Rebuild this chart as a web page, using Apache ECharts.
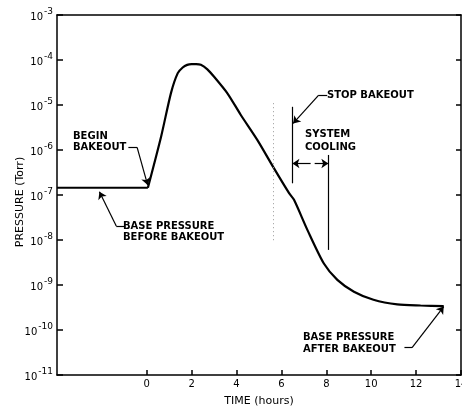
<!DOCTYPE html>
<html>
<head>
<meta charset="utf-8">
<script src="https://cdn.jsdelivr.net/npm/echarts@6/dist/echarts.min.js"></script>
<style>
  html, body { margin: 0; padding: 0; background: #fff; }
  #chart { width: 462px; height: 409px; }
</style>
</head>
<body>
<div id="chart"></div>
<script>
// base pressure before bakeout (hours, Torr)
var baseHours = [-4, 0.05];
var basePressure = [1.45e-7, 1.45e-7];
// pressure during bakeout and cooling
var hours = [0.05, 0.64, 1.08, 1.38, 1.6, 1.8, 2.0, 2.2, 2.41, 2.7, 2.99, 3.6, 4.19, 4.93, 5.67, 6.34, 6.56, 7.16, 7.89, 8.49, 9.23, 10.1, 11.16, 12.2, 13.23];
var pressure = [1.45e-7, 2.0e-6, 1.86e-5, 5.1e-5, 6.8e-5, 7.8e-5, 8.1e-5, 8.1e-5, 7.8e-5, 6.2e-5, 4.3e-5, 1.8e-5, 6.0e-6, 1.66e-6, 3.9e-7, 1.1e-7, 7.8e-8, 1.66e-8, 3.0e-9, 1.3e-9, 7.1e-10, 4.7e-10, 3.7e-10, 3.5e-10, 3.4e-10];
var hourTicks = [0, 2, 4, 6, 8, 10, 12, 14];
var decadeTicks = [1e-11, 1e-10, 1e-9, 1e-8, 1e-7, 1e-6, 1e-5, 1e-4, 1e-3];
var stopBakeout = 6.49;
var coolingEnd = 8.09;

function zip(xs, ys) {
  return xs.map(function (x, i) { return [x, ys[i]]; });
}

// a segment in (hours, log10 pressure)
function seg(x1, l1, x2, l2, arrow, style) {
  return [
    { coord: [x1, Math.pow(10, l1)], symbol: 'none' },
    { coord: [x2, Math.pow(10, l2)], symbol: arrow ? 'arrow' : 'none', lineStyle: style }
  ];
}

var dotted = { color: '#999', width: 1, type: [1, 3] };
var notes = [
  seg(5.64, -4.96, 5.64, -8.07, false, dotted),
  seg(stopBakeout, -5.04, stopBakeout, -6.74),
  seg(coolingEnd, -6.11, coolingEnd, -8.22),
  seg(7.30, -6.30, stopBakeout, -6.30, true),
  seg(7.48, -6.30, coolingEnd, -6.30, true),
  seg(-0.82, -5.94, -0.43, -5.94),
  seg(-0.43, -5.94, 0.04, -6.78, true),
  seg(-1.0, -7.69, -1.36, -7.69),
  seg(-1.36, -7.69, -2.11, -6.93, true),
  seg(8.04, -4.78, 7.66, -4.78),
  seg(7.66, -4.78, 6.52, -5.41, true),
  seg(11.48, -10.39, 11.82, -10.39),
  seg(11.82, -10.39, 13.23, -9.48, true)
];

function label(text, x, y) {
  return {
    type: 'text', x: x, y: y,
    style: { text: text, fill: '#000', fontFamily: 'DejaVu Sans', fontSize: 10, fontWeight: 'bold', align: 'left', verticalAlign: 'middle' }
  };
}

var axisColor = '#000';
var chart = echarts.init(document.getElementById('chart'));
chart.setOption({
  animation: false,
  backgroundColor: '#fff',
  grid: { left: 57, right: 1, top: 15, bottom: 34, outerBoundsMode: 'none' },
  xAxis: [{
    type: 'value', min: -4, max: 14, interval: 2,
    name: 'TIME (hours)', nameLocation: 'middle', nameGap: 21,
    nameTextStyle: { color: '#000', fontFamily: 'DejaVu Sans', fontSize: 11 },
    axisLine: { onZero: false, lineStyle: { color: axisColor, width: 1.5 } },
    axisTick: { inside: true, length: 5, customValues: hourTicks, lineStyle: { color: axisColor, width: 1.5 } },
    axisLabel: { customValues: hourTicks, margin: 4, color: '#000', fontFamily: 'DejaVu Sans', fontSize: 10 },
    splitLine: { show: false }
  }, {
    type: 'value', position: 'top', min: -4, max: 14,
    axisLine: { show: true, onZero: false, lineStyle: { color: axisColor, width: 1.5 } },
    axisTick: { show: false }, axisLabel: { show: false }, splitLine: { show: false }
  }],
  yAxis: [{
    type: 'log', logBase: 10, min: 1e-11, max: 1e-3,
    axisLine: { show: true, onZero: false, lineStyle: { color: axisColor, width: 1.5 } },
    axisTick: { inside: true, length: 6, customValues: decadeTicks, lineStyle: { color: axisColor, width: 1.5 } },
    axisLabel: {
      customValues: decadeTicks, margin: 4,
      formatter: function (v) { return '{a|10}{b|' + Math.round(Math.log10(v)) + '}'; },
      rich: {
        a: { color: '#000', fontFamily: 'DejaVu Sans', fontSize: 10, verticalAlign: 'bottom' },
        b: { color: '#000', fontFamily: 'DejaVu Sans', fontSize: 9, verticalAlign: 'bottom', padding: [0, 0, 6, 1] }
      }
    },
    splitLine: { show: false }
  }, {
    type: 'log', logBase: 10, min: 1e-11, max: 1e-3, position: 'right',
    axisLine: { show: true, onZero: false, lineStyle: { color: axisColor, width: 1.5 } },
    axisTick: { inside: true, length: 5, customValues: decadeTicks, lineStyle: { color: axisColor, width: 1.5 } },
    axisLabel: { show: false }, splitLine: { show: false }
  }],
  series: [{
    type: 'line', data: zip(baseHours, basePressure), showSymbol: false,
    lineStyle: { color: '#000', width: 2.2 }
  }, {
    type: 'line', data: zip(hours, pressure), showSymbol: false, smooth: 0.25,
    lineStyle: { color: '#000', width: 2.2 },
    markLine: {
      silent: true, symbolSize: 7, label: { show: false },
      lineStyle: { color: '#000', width: 1.2, type: 'solid' },
      emphasis: { disabled: true },
      data: notes
    }
  }],
  graphic: [
    label('BEGIN', 73, 136), label('BAKEOUT', 73, 147.5),
    label('BASE PRESSURE', 123, 226), label('BEFORE BAKEOUT', 123, 237.5),
    label('STOP BAKEOUT', 327, 95),
    label('SYSTEM', 305, 134), label('COOLING', 305, 147),
    label('BASE PRESSURE', 303, 337.5), label('AFTER BAKEOUT', 303, 349),
    {
      type: 'text', x: 20, y: 202, rotation: Math.PI / 2,
      style: { text: 'PRESSURE (Torr)', fill: '#000', fontFamily: 'DejaVu Sans', fontSize: 11, align: 'center', verticalAlign: 'middle' }
    }
  ]
});
</script>
</body>
</html>
